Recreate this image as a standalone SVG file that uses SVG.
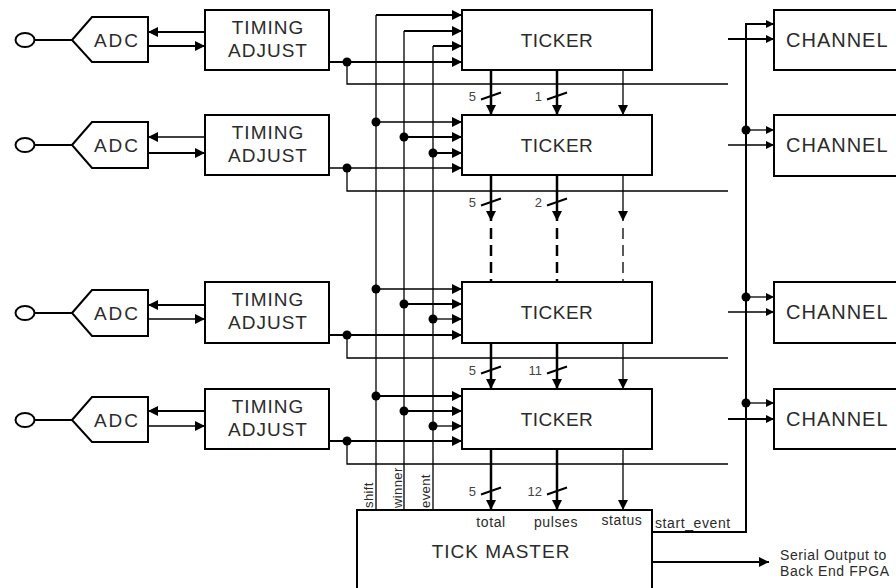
<svg xmlns="http://www.w3.org/2000/svg" width="896" height="588" viewBox="0 0 896 588">
<style>
.box{fill:#fff;stroke:#000;stroke-width:2}
.lbl{font-family:"Liberation Sans",Arial,sans-serif;fill:#2b2b2b;font-size:19px;letter-spacing:1px}
.sm{font-family:"Liberation Sans",Arial,sans-serif;fill:#2b2b2b;font-size:14px;letter-spacing:0.6px}
.num{font-family:"Liberation Sans",Arial,sans-serif;fill:#444;font-size:13px}
.rot{font-family:"Liberation Sans",Arial,sans-serif;fill:#2b2b2b;font-size:13px;letter-spacing:0.4px}
.w{stroke:#000;stroke-width:2;fill:none}
.k{stroke:#000;stroke-width:2.5;fill:none}
.n{stroke:#000;stroke-width:1.3;fill:none}
.da{stroke-dasharray:11 6}
.d{fill:#000}
.mid{text-anchor:middle}
.end{text-anchor:end}
</style>
<defs>
<marker id="a" markerUnits="userSpaceOnUse" viewBox="0 0 10 10" markerWidth="10" markerHeight="10" refX="10" refY="5" orient="auto"><path d="M0,0L10,5L0,10z" fill="#000"/></marker>
<marker id="b" markerUnits="userSpaceOnUse" viewBox="0 0 10 10" markerWidth="8" markerHeight="8" refX="10" refY="5" orient="auto"><path d="M0,0L10,5L0,10z" fill="#000"/></marker>
</defs>
<rect width="896" height="588" fill="#fff"/>

<g id="connectors">
  <path class="w" d="M35,40H72M35,145H72M35,313H72M35,420H72"/>
  <line class="w" x1="205" y1="32" x2="148" y2="32" marker-end="url(#a)"/>
  <line class="w" x1="148" y1="46" x2="205" y2="46" marker-end="url(#a)"/>
  <line class="n" x1="205" y1="137" x2="148" y2="137" marker-end="url(#a)"/>
  <line class="w" x1="148" y1="153" x2="205" y2="153" marker-end="url(#a)"/>
  <line class="w" x1="205" y1="305" x2="148" y2="305" marker-end="url(#a)"/>
  <line class="n" x1="148" y1="319" x2="205" y2="319" marker-end="url(#a)"/>
  <line class="w" x1="205" y1="411" x2="148" y2="411" marker-end="url(#a)"/>
  <line class="n" x1="148" y1="426" x2="205" y2="426" marker-end="url(#a)"/>

  <path class="n" d="M376,15V510M404,31V510M433,46V510"/>
  <line class="w" x1="376" y1="15" x2="462" y2="15" marker-end="url(#a)"/>
  <line class="w" x1="404" y1="31" x2="462" y2="31" marker-end="url(#a)"/>
  <line class="w" x1="433" y1="46" x2="462" y2="46" marker-end="url(#a)"/>
  <line class="w" x1="329" y1="62" x2="462" y2="62" marker-end="url(#a)"/>
  <line class="n" x1="376" y1="122" x2="462" y2="122" marker-end="url(#a)"/>
  <line class="w" x1="404" y1="137" x2="462" y2="137" marker-end="url(#a)"/>
  <line class="w" x1="433" y1="153" x2="462" y2="153" marker-end="url(#a)"/>
  <line class="n" x1="329" y1="168" x2="462" y2="168" marker-end="url(#a)"/>
  <line class="n" x1="376" y1="289" x2="462" y2="289" marker-end="url(#a)"/>
  <line class="w" x1="404" y1="304" x2="462" y2="304" marker-end="url(#a)"/>
  <line class="n" x1="433" y1="319" x2="462" y2="319" marker-end="url(#a)"/>
  <line class="w" x1="329" y1="335" x2="462" y2="335" marker-end="url(#a)"/>
  <line class="w" x1="376" y1="396" x2="462" y2="396" marker-end="url(#a)"/>
  <line class="w" x1="404" y1="411" x2="462" y2="411" marker-end="url(#a)"/>
  <line class="n" x1="433" y1="426" x2="462" y2="426" marker-end="url(#a)"/>
  <line class="w" x1="329" y1="441" x2="462" y2="441" marker-end="url(#a)"/>
  <path class="n" d="M347,62V84H728M347,168V191H728M347,335V358H728M347,441V464H728"/>
  <g class="d">
    <circle cx="347" cy="62" r="4.5"/><circle cx="347" cy="168" r="4.5"/><circle cx="347" cy="335" r="4.5"/><circle cx="347" cy="441" r="4.5"/>
    <circle cx="376" cy="122" r="4.5"/><circle cx="404" cy="137" r="4.5"/><circle cx="433" cy="153" r="4.5"/>
    <circle cx="376" cy="289" r="4.5"/><circle cx="404" cy="304" r="4.5"/><circle cx="433" cy="319" r="4.5"/>
    <circle cx="376" cy="396" r="4.5"/><circle cx="404" cy="411" r="4.5"/><circle cx="433" cy="426" r="4.5"/>
    <circle cx="746" cy="130" r="4.5"/><circle cx="746" cy="297" r="4.5"/><circle cx="746" cy="403" r="4.5"/>
  </g>

  <line class="k" x1="491" y1="70" x2="491" y2="115" marker-end="url(#a)"/>
  <line class="k" x1="557" y1="70" x2="557" y2="115" marker-end="url(#a)"/>
  <line class="n" x1="623" y1="70" x2="623" y2="115" marker-end="url(#a)"/>
  <line class="k" x1="491" y1="175" x2="491" y2="221" marker-end="url(#a)"/>
  <line class="k" x1="557" y1="175" x2="557" y2="221" marker-end="url(#a)"/>
  <line class="n" x1="623" y1="175" x2="623" y2="221" marker-end="url(#a)"/>
  <path class="k da" d="M491,228V282M557,228V282"/>
  <path class="n da" d="M623,228V282"/>
  <line class="k" x1="491" y1="343" x2="491" y2="389" marker-end="url(#a)"/>
  <line class="k" x1="557" y1="343" x2="557" y2="389" marker-end="url(#a)"/>
  <line class="n" x1="623" y1="343" x2="623" y2="389" marker-end="url(#a)"/>
  <line class="k" x1="491" y1="449" x2="491" y2="510" marker-end="url(#a)"/>
  <line class="k" x1="557" y1="449" x2="557" y2="510" marker-end="url(#a)"/>
  <line class="n" x1="623" y1="449" x2="623" y2="510" marker-end="url(#a)"/>
  <path class="w" d="M481,99.5L501,92.5M547,99.5L567,92.5M481,205.5L501,198.5M547,205.5L567,198.5M481,373.5L501,366.5M547,373.5L567,366.5M481,494.5L501,487.5M547,494.5L567,487.5"/>
  <g class="num end">
    <text x="476" y="101">5</text><text x="542" y="101">1</text>
    <text x="476" y="207">5</text><text x="542" y="207">2</text>
    <text x="476" y="375">5</text><text x="542" y="375">11</text>
    <text x="476" y="496">5</text><text x="542" y="496">12</text>
  </g>
  <text class="rot" transform="translate(373,508) rotate(-90)">shift</text>
  <text class="rot" transform="translate(401.5,508) rotate(-90)">winner</text>
  <text class="rot" transform="translate(430,508) rotate(-90)">event</text>

  <path class="w" d="M652,532H746V24H774" marker-end="url(#b)"/>
  <line class="n" x1="746" y1="130" x2="774" y2="130" marker-end="url(#b)"/>
  <line class="n" x1="746" y1="297" x2="774" y2="297" marker-end="url(#b)"/>
  <line class="n" x1="746" y1="403" x2="774" y2="403" marker-end="url(#b)"/>
  <line class="w" x1="728" y1="39" x2="774" y2="39" marker-end="url(#b)"/>
  <line class="n" x1="728" y1="145" x2="774" y2="145" marker-end="url(#b)"/>
  <line class="n" x1="728" y1="312" x2="774" y2="312" marker-end="url(#b)"/>
  <line class="w" x1="728" y1="419" x2="774" y2="419" marker-end="url(#b)"/>
  <text class="sm" x="655" y="528">start_event</text>
  <line class="w" x1="652" y1="562" x2="769" y2="562" marker-end="url(#a)"/>
  <text class="sm" x="780" y="560">Serial Output to</text>
  <text class="sm" x="780" y="576">Back End FPGA</text>
</g>

<g id="input1"><ellipse class="box" cx="25" cy="40" rx="9.5" ry="7"/></g>
<g id="input2"><ellipse class="box" cx="25" cy="145" rx="9.5" ry="7"/></g>
<g id="input3"><ellipse class="box" cx="25" cy="313" rx="9.5" ry="7"/></g>
<g id="input4"><ellipse class="box" cx="25" cy="420" rx="9.5" ry="7"/></g>

<g id="adc1"><polygon class="box" points="72,40 92,17 148,17 148,62 92,62"/><text class="lbl mid" x="117" y="47" style="letter-spacing:2px">ADC</text></g>
<g id="adc2"><polygon class="box" points="72,145 92,122 148,122 148,168 92,168"/><text class="lbl mid" x="117" y="152" style="letter-spacing:2px">ADC</text></g>
<g id="adc3"><polygon class="box" points="72,313 92,290 148,290 148,336 92,336"/><text class="lbl mid" x="117" y="320" style="letter-spacing:2px">ADC</text></g>
<g id="adc4"><polygon class="box" points="72,420 92,397 148,397 148,442 92,442"/><text class="lbl mid" x="117" y="427" style="letter-spacing:2px">ADC</text></g>

<g id="timing1"><rect class="box" x="205" y="10" width="124" height="60"/><text class="lbl mid" x="268" y="34">TIMING</text><text class="lbl mid" x="268" y="57">ADJUST</text></g>
<g id="timing2"><rect class="box" x="205" y="115" width="124" height="60"/><text class="lbl mid" x="268" y="139">TIMING</text><text class="lbl mid" x="268" y="162">ADJUST</text></g>
<g id="timing3"><rect class="box" x="205" y="282" width="124" height="61"/><text class="lbl mid" x="268" y="306">TIMING</text><text class="lbl mid" x="268" y="329">ADJUST</text></g>
<g id="timing4"><rect class="box" x="205" y="389" width="124" height="60"/><text class="lbl mid" x="268" y="413">TIMING</text><text class="lbl mid" x="268" y="436">ADJUST</text></g>

<g id="ticker1"><rect class="box" x="462" y="10" width="190" height="60"/><text class="lbl mid" x="557" y="47" style="letter-spacing:0.5px">TICKER</text></g>
<g id="ticker2"><rect class="box" x="462" y="115" width="190" height="60"/><text class="lbl mid" x="557" y="152" style="letter-spacing:0.5px">TICKER</text></g>
<g id="ticker3"><rect class="box" x="462" y="282" width="190" height="61"/><text class="lbl mid" x="557" y="319" style="letter-spacing:0.5px">TICKER</text></g>
<g id="ticker4"><rect class="box" x="462" y="389" width="190" height="60"/><text class="lbl mid" x="557" y="426" style="letter-spacing:0.5px">TICKER</text></g>

<g id="channel1"><rect class="box" x="774" y="10" width="140" height="60"/><text class="lbl" x="786" y="47" style="font-size:20px">CHANNEL</text></g>
<g id="channel2"><rect class="box" x="774" y="115" width="140" height="61"/><text class="lbl" x="786" y="152" style="font-size:20px">CHANNEL</text></g>
<g id="channel3"><rect class="box" x="774" y="282" width="140" height="61"/><text class="lbl" x="786" y="319" style="font-size:20px">CHANNEL</text></g>
<g id="channel4"><rect class="box" x="774" y="389" width="140" height="60"/><text class="lbl" x="786" y="426" style="font-size:20px">CHANNEL</text></g>

<g id="tickmaster">
  <rect class="box" x="357" y="510" width="295" height="90"/>
  <text class="sm mid" x="491" y="527">total</text>
  <text class="sm mid" x="556" y="527">pulses</text>
  <text class="sm mid" x="622" y="525">status</text>
  <text class="lbl mid" x="501" y="558">TICK MASTER</text>
</g>
</svg>
